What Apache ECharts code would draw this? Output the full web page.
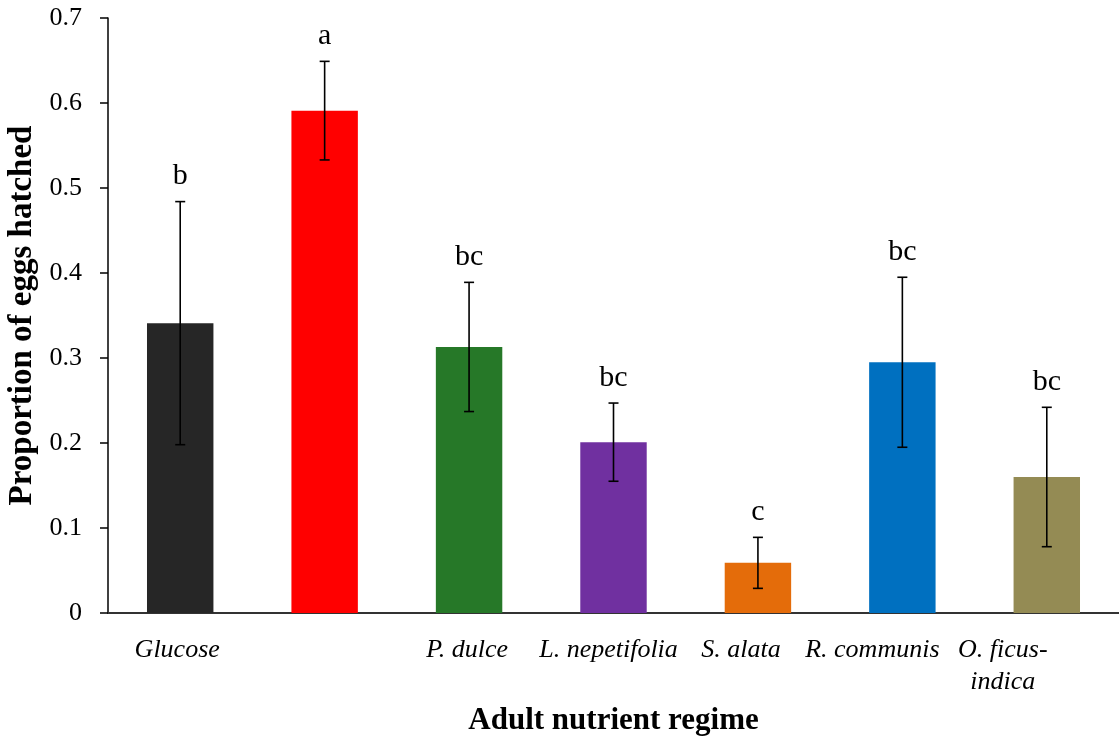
<!DOCTYPE html>
<html>
<head>
<meta charset="utf-8">
<script src="https://cdn.jsdelivr.net/npm/echarts@6/dist/echarts.min.js"></script>
<style>
  html, body { margin: 0; padding: 0; background: #fff; overflow: hidden; }
  #chart { width: 1119px; height: 737px; }
</style>
</head>
<body>
<div id="chart"></div>
<script>
// Egg hatching by adult nutrient regime
const categories = ['Glucose', '', 'P. dulce', 'L. nepetifolia', 'S. alata', 'R. communis', 'O. ficus-\nindica'];
const hatchMeans = [0.341, 0.591, 0.313, 0.201, 0.059, 0.295, 0.160];
const hatchErrors = [0.143, 0.058, 0.076, 0.046, 0.030, 0.100, 0.082];
const groupLetters = ['b', 'a', 'bc', 'bc', 'c', 'bc', 'bc'];
const yTicks = [0, 0.1, 0.2, 0.3, 0.4, 0.5, 0.6, 0.7];

const barColors = ['#262626', '#ff0000', '#267828', '#7030a0', '#e46c0a', '#0070c0', '#948b54'];
// left shift of each category label (px)
const labelShift = [3, 0, 2, 5, 17, 30, 44];

const serif = '"Liberation Serif", "Times New Roman", serif';

const rich = {};
labelShift.forEach((s, i) => {
  rich['c' + i] = {
    fontFamily: serif, fontStyle: 'italic', fontSize: 26, color: '#000',
    lineHeight: 32, padding: [0, s * 2, 0, 0]
  };
});

const chart = echarts.init(document.getElementById('chart'), null, { renderer: 'canvas', width: 1119, height: 737 });

chart.setOption({
  animation: false,
  backgroundColor: '#fff',
  grid: { left: 108, right: 0, top: 18, bottom: 124, containLabel: false, outerBoundsMode: 'none' },
  xAxis: {
    type: 'category',
    data: categories,
    name: 'Adult nutrient regime',
    nameLocation: 'middle',
    nameGap: 92,
    nameTextStyle: { fontFamily: serif, fontWeight: 'bold', fontSize: 31, color: '#000' },
    axisLine: { lineStyle: { color: '#333', width: 2 } },
    axisTick: { show: false },
    axisLabel: {
      margin: 21,
      interval: 0,
      formatter: (val, idx) => val.split('\n').map(l => '{c' + idx + '|' + l + '}').join('\n'),
      rich: rich
    }
  },
  yAxis: {
    type: 'value',
    min: yTicks[0],
    max: yTicks[yTicks.length - 1],
    interval: 0.1,
    name: 'Proportion of eggs hatched',
    nameLocation: 'middle',
    nameGap: 52,
    nameTextStyle: { fontFamily: serif, fontWeight: 'bold', fontSize: 33, color: '#000' },
    axisLine: { show: true, lineStyle: { color: '#000', width: 1.5 } },
    axisTick: { show: true, length: 8, lineStyle: { color: '#000', width: 1.5 } },
    splitLine: { show: false },
    axisLabel: {
      margin: 26,
      fontFamily: serif, fontSize: 26, color: '#000',
      formatter: v => (Math.round(v * 10) / 10).toString()
    }
  },
  series: [
    {
      type: 'bar',
      barWidth: '46%',
      data: hatchMeans.map((v, i) => ({ value: v, itemStyle: { color: barColors[i] } })),
      z: 2
    },
    {
      type: 'custom',
      z: 3,
      data: hatchMeans.map((v, i) => [i, v, hatchErrors[i], groupLetters[i]]),
      renderItem: function (params, api) {
        const x = api.value(0);
        const m = api.value(1);
        const e = api.value(2);
        const top = api.coord([x, m + e]);
        const bot = api.coord([x, m - e]);
        const cap = 5;
        const stroke = { stroke: '#000', lineWidth: 1.6 };
        const idx = params.dataIndex;
        return {
          type: 'group',
          children: [
            { type: 'line', shape: { x1: top[0], y1: top[1], x2: bot[0], y2: bot[1] }, style: stroke },
            { type: 'line', shape: { x1: top[0] - cap, y1: top[1], x2: top[0] + cap, y2: top[1] }, style: stroke },
            { type: 'line', shape: { x1: bot[0] - cap, y1: bot[1], x2: bot[0] + cap, y2: bot[1] }, style: stroke },
            {
              type: 'text',
              style: {
                text: groupLetters[idx],
                x: top[0], y: top[1] - 10,
                align: 'center', verticalAlign: 'bottom',
                fontFamily: serif, fontSize: 30, fill: '#000'
              }
            }
          ]
        };
      }
    }
  ]
});
</script>
</body>
</html>
